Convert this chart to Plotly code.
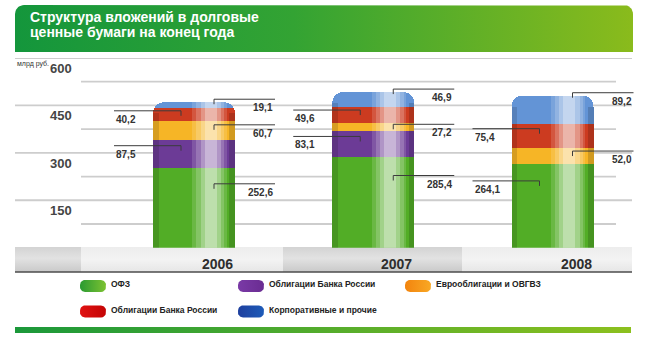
import numpy as np
import plotly.graph_objects as go

# ---------------- data ----------------
years = ["2006", "2007", "2008"]
series_names = ["ОФЗ", "Облигации Банка России", "Еврооблигации и ОВГВЗ",
                "Облигации Банка России", "Корпоративные и прочие"]
ofz = [252.6, 285.4, 264.1]
cbr_bonds = [87.5, 83.1, 0.0]
eurobonds = [60.7, 27.2, 52.0]
cbr_bonds_2 = [40.2, 49.6, 75.4]
corporate = [19.1, 46.9, 89.2]
y_ticks = [150, 300, 450, 600]
unit_label = "млрд руб."
title_lines = ["Структура вложений в долговые", "ценные бумаги на конец года"]

series_values = [ofz, cbr_bonds, eurobonds, cbr_bonds_2, corporate]
series_colors = ["#52ad26", "#6c3b96", "#f6b526", "#cc3b20", "#6394d6"]
legend_grad = [["#2a9a32", "#7cc232"], ["#7a3aa6", "#6a2c92"], ["#f2840e", "#f9a824"],
               ["#e01212", "#c40404"], ["#1e3f9e", "#1d5bb8"]]

# ---------------- geometry ----------------
W, H = 648, 348
Y_MAX = 600
D0 = 1 - 247.7 / H
D1 = 1 - 58.0 / H
PPY = H * (D1 - D0) / Y_MAX
X0_PX, PPX = 194.0, 179.25
XMIN = -X0_PX / PPX
XMAX = (W - X0_PX) / PPX
BW = 82 / PPX

SANS = "Liberation Sans, Arial, DejaVu Sans, sans-serif"


def rrect(x0, y0, x1, y1, r, top_only=False):
    xs, ys = [], []
    def arc(cx, cy, a0, a1):
        for a in np.linspace(a0, a1, 10):
            xs.append(cx + r * np.cos(a))
            ys.append(cy + r * np.sin(a))
    arc(x0 + r, y0 + r, np.pi, 1.5 * np.pi)
    arc(x1 - r, y0 + r, 1.5 * np.pi, 2 * np.pi)
    if top_only:
        xs += [x1, x0]
        ys += [y1, y1]
    else:
        arc(x1 - r, y1 - r, 0, 0.5 * np.pi)
        arc(x0 + r, y1 - r, 0.5 * np.pi, np.pi)
    xs.append(xs[0]); ys.append(ys[0])
    return xs, ys


fig = go.Figure()


def deco(xs, ys, scale, gtype="horizontal", color=None):
    kw = dict(x=xs, y=ys, mode="lines", fill="toself", line=dict(width=0),
              hoverinfo="skip", showlegend=False, xaxis="x", yaxis="y")
    if scale is not None:
        kw["fillgradient"] = dict(type=gtype, colorscale=scale)
        kw["fillcolor"] = scale[0][1]
    else:
        kw["fillcolor"] = color
    fig.add_trace(go.Scatter(**kw))


# title banner
bx, by = rrect(15, 5, 633, 52, 9, top_only=True)
deco(bx, by, [[0, "#14963c"], [0.45, "#33a333"], [1, "#8abb1c"]])
# bottom band with segments
band = [(15, 81, "g"), (81, 283, "l"), (283, 462, "g"), (462, 632, "l")]
for a, b, kind in band:
    xs = [a, b, b, a, a]
    ys = [247, 247, 272, 272, 247]
    if kind == "g":
        deco(xs, ys, [[0, "#c9c9c9"], [0.55, "#e2e2e2"], [1, "#d3d3d3"]], "vertical")
    else:
        deco(xs, ys, [[0, "#e6e6e6"], [0.5, "#f3f3f3"], [1, "#ededed"]], "vertical")
deco([15, 632, 632, 15, 15], [271.3, 271.3, 272.8, 272.8, 271.3], None, color="#4d4d4d")
# bottom green stripe
deco([15, 631, 631, 15, 15], [327, 327, 333, 333, 327],
     [[0, "#1b983a"], [1, "#8cc01e"]])

# legend swatches
col_x = [80, 238, 405]
row_y = [286, 311.5]
for k, (name, g) in enumerate(zip(series_names, legend_grad)):
    cx = col_x[k % 3]
    cy = row_y[k // 3]
    sx, sy = rrect(cx, cy - 6, cx + 26, cy + 6, 5)
    deco(sx, sy, [[0, g[0]], [1, g[1]]])

# ---------------- bars ----------------
for name, vals, col in zip(series_names, series_values, series_colors):
    fig.add_trace(go.Bar(x=years, y=vals, name=name, width=BW,
                         marker=dict(color=col, line=dict(width=0)),
                         xaxis="x2", yaxis="y2", hoverinfo="skip", showlegend=False))

totals = [sum(s[i] for s in series_values) for i in range(len(years))]
edge_h = [t - 11 / PPY for t in totals]
strips = [("x3", 0.48, 0.90, "#ffffff", 0.14, totals),
          ("x4", 0.53, 0.87, "#ffffff", 0.18, totals),
          ("x5", 0.58, 0.83, "#ffffff", 0.24, totals),
          ("x6", 0.63, 0.78, "#ffffff", 0.30, totals),
          ("x7", 0.0, 0.07, "#000000", 0.13, edge_h),
          ("x8", 0.93, 1.0, "#000000", 0.15, edge_h)]
for ax, f0, f1, col, op, hs in strips:
    fig.add_trace(go.Bar(x=years, y=hs, width=(f1 - f0) * BW, offset=-BW / 2 + f0 * BW,
                         marker=dict(color=col, opacity=op, line=dict(width=0), cornerradius=0),
                         xaxis=ax, yaxis="y2", hoverinfo="skip", showlegend=False))

# ---------------- leader lines and value labels ----------------
shapes = []
annotations = []
LINE_C = "#3c3c3c"
for i in range(len(years)):
    cum = []
    acc = 0
    for s in series_values:
        acc += s[i]
        cum.append(acc)
    nz = [k for k in range(len(series_values)) if series_values[k][i] > 0]
    top_k = nz[-1]
    for rank, k in enumerate(reversed(nz)):
        v = series_values[k][i]
        if k == top_k:
            yv = cum[k] + 3 / PPY
        else:
            yv = cum[k] - 0.2 * v
        right = rank % 2 == 0
        if right:
            tx, xa, xb = i + 20 / PPX, i + 20 / PPX, i + 81 / PPX
            lx, anchor = xb, "right"
        else:
            tx, xa, xb = i - 13 / PPX, i - 80 / PPX, i - 13 / PPX
            lx, anchor = xa, "left"
        shapes.append(dict(type="line", xref="x2", yref="y2", x0=xa, x1=xb, y0=yv, y1=yv,
                           line=dict(color=LINE_C, width=1), layer="above"))
        shapes.append(dict(type="line", xref="x2", yref="y2", x0=tx, x1=tx, y0=yv,
                           y1=yv - 5 / PPY, line=dict(color=LINE_C, width=1), layer="above"))
        annotations.append(dict(x=lx, y=yv, xref="x2", yref="y2", xanchor=anchor,
                                yanchor="top", yshift=-1, showarrow=False,
                                text=f"{v:.1f}".replace(".", ","),
                                font=dict(family=SANS, size=10, color="#333333", weight="bold")))

# gridlines
for t in y_ticks:
    shapes.append(dict(type="line", xref="paper", yref="y2", x0=15 / W, x1=632 / W, y0=t, y1=t,
                       line=dict(color="#cdcdcd", width=1.8), layer="below"))
    shapes.append(dict(type="line", xref="paper", yref="y2", x0=81 / W, x1=616 / W,
                       y0=t - 75, y1=t - 75, line=dict(color="#cdcdcd", width=1.8), layer="below"))
    annotations.append(dict(x=74 / W, xref="paper", y=t, yref="y2", xanchor="right", yanchor="top",
                            yshift=-1, showarrow=False, text=str(t),
                            font=dict(family=SANS, size=13, color="#454545", weight="bold")))

annotations.append(dict(x=15 / W, xref="paper", y=1 - 64.5 / H, yref="paper", xanchor="left",
                        yanchor="middle", showarrow=False, text=unit_label,
                        font=dict(family=SANS, size=7, color="#333333")))

# year labels
for i, yr in enumerate(years):
    annotations.append(dict(x=i + 41 / PPX, xref="x2", y=1 - 263.5 / H, yref="paper",
                            xanchor="right", yanchor="middle", showarrow=False, text=yr,
                            font=dict(family=SANS, size=14, color="#2e2e2e", weight="bold")))

# title
for j, line in enumerate(title_lines):
    annotations.append(dict(x=28 / W, xref="paper", y=1 - (16.5 + 16 * j) / H, yref="paper",
                            xanchor="left", yanchor="middle", showarrow=False, text=line,
                            font=dict(family=SANS, size=14, color="#ffffff", weight="bold")))

# legend texts
for k, name in enumerate(series_names):
    cx = col_x[k % 3]
    cy = row_y[k // 3]
    annotations.append(dict(x=(cx + 29) / W, xref="paper", y=1 - (cy - 2) / H, yref="paper",
                            xanchor="left", yanchor="middle", showarrow=False, text=name,
                            font=dict(family=SANS, size=8.5, color="#222222", weight="bold")))

hidden = dict(visible=False, fixedrange=True)
layout_axes = dict(
    xaxis=dict(domain=[0, 1], range=[0, W], anchor="y", **hidden),
    yaxis=dict(domain=[0, 1], range=[H, 0], anchor="x", **hidden),
    xaxis2=dict(domain=[0, 1], range=[XMIN, XMAX], anchor="y2", type="category", **hidden),
    yaxis2=dict(domain=[D0, D1], range=[0, Y_MAX], anchor="x2", **hidden),
)
for ax in ["xaxis3", "xaxis4", "xaxis5", "xaxis6", "xaxis7", "xaxis8"]:
    layout_axes[ax] = dict(overlaying="x2", anchor="y2", range=[XMIN, XMAX],
                           type="category", **hidden)

fig.update_layout(
    width=W, height=H, margin=dict(l=0, r=0, t=0, b=0),
    paper_bgcolor="#ffffff", plot_bgcolor="rgba(0,0,0,0)",
    barmode="stack", barcornerradius=11, showlegend=False,
    shapes=shapes, annotations=annotations, **layout_axes,
)

fig.write_html("out.html")
